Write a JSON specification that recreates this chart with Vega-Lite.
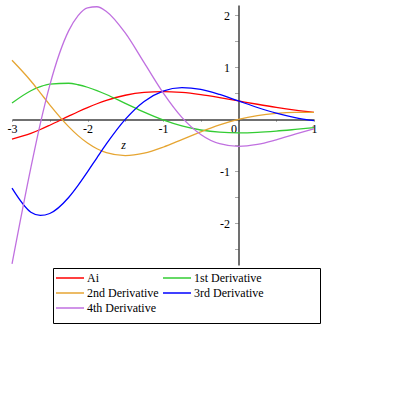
{
  "$schema": "https://vega.github.io/schema/vega-lite/v6.json",
  "width": 302,
  "height": 260,
  "autosize": {"type": "none"},
  "padding": {"left": 12, "top": 5, "right": 81, "bottom": 130},
  "background": "white",
  "config": {"view": {"stroke": null}},
  "data": {"values": [
    {"z": -3, "s": "Ai", "v": -0.3788}, {"z": -3, "s": "1st Derivative", "v": 0.3146}, {"z": -3, "s": "2nd Derivative", "v": 1.1364}, {"z": -3, "s": "3rd Derivative", "v": -1.3226}, {"z": -3, "s": "4th Derivative", "v": -2.7802},
    {"z": -2.75, "s": "Ai", "v": -0.2685}, {"z": -2.75, "s": "1st Derivative", "v": 0.5513}, {"z": -2.75, "s": "2nd Derivative", "v": 0.7383}, {"z": -2.75, "s": "3rd Derivative", "v": -1.7847}, {"z": -2.75, "s": "4th Derivative", "v": -0.9278},
    {"z": -2.625, "s": "Ai", "v": -0.1944}, {"z": -2.625, "s": "1st Derivative", "v": 0.6294}, {"z": -2.625, "s": "2nd Derivative", "v": 0.5103}, {"z": -2.625, "s": "3rd Derivative", "v": -1.8467}, {"z": -2.625, "s": "4th Derivative", "v": -0.0806},
    {"z": -2.5, "s": "Ai", "v": -0.1123}, {"z": -2.5, "s": "1st Derivative", "v": 0.6788}, {"z": -2.5, "s": "2nd Derivative", "v": 0.2808}, {"z": -2.5, "s": "3rd Derivative", "v": -1.8094}, {"z": -2.5, "s": "4th Derivative", "v": 0.6556},
    {"z": -2.25, "s": "Ai", "v": 0.0616}, {"z": -2.25, "s": "1st Derivative", "v": 0.6950}, {"z": -2.25, "s": "2nd Derivative", "v": -0.1386}, {"z": -2.25, "s": "3rd Derivative", "v": -1.5022}, {"z": -2.25, "s": "4th Derivative", "v": 1.7019},
    {"z": -2.125, "s": "Ai", "v": 0.1469}, {"z": -2.125, "s": "1st Derivative", "v": 0.6665}, {"z": -2.125, "s": "2nd Derivative", "v": -0.3122}, {"z": -2.125, "s": "3rd Derivative", "v": -1.2695}, {"z": -2.125, "s": "4th Derivative", "v": 1.9965},
    {"z": -2, "s": "Ai", "v": 0.2274}, {"z": -2, "s": "1st Derivative", "v": 0.6183}, {"z": -2, "s": "2nd Derivative", "v": -0.4548}, {"z": -2, "s": "3rd Derivative", "v": -1.0091}, {"z": -2, "s": "4th Derivative", "v": 2.1461},
    {"z": -1.875, "s": "Ai", "v": 0.3008}, {"z": -1.875, "s": "1st Derivative", "v": 0.5542}, {"z": -1.875, "s": "2nd Derivative", "v": -0.5641}, {"z": -1.875, "s": "3rd Derivative", "v": -0.7383}, {"z": -1.875, "s": "4th Derivative", "v": 2.1661},
    {"z": -1.75, "s": "Ai", "v": 0.3655}, {"z": -1.75, "s": "1st Derivative", "v": 0.4787}, {"z": -1.75, "s": "2nd Derivative", "v": -0.6396}, {"z": -1.75, "s": "3rd Derivative", "v": -0.4722}, {"z": -1.75, "s": "4th Derivative", "v": 2.0766},
    {"z": -1.5, "s": "Ai", "v": 0.4643}, {"z": -1.5, "s": "1st Derivative", "v": 0.3092}, {"z": -1.5, "s": "2nd Derivative", "v": -0.6964}, {"z": -1.5, "s": "3rd Derivative", "v": 0.0005}, {"z": -1.5, "s": "4th Derivative", "v": 1.6630},
    {"z": -1.25, "s": "Ai", "v": 0.5200}, {"z": -1.25, "s": "1st Derivative", "v": 0.1391}, {"z": -1.25, "s": "2nd Derivative", "v": -0.6501}, {"z": -1.25, "s": "3rd Derivative", "v": 0.3462}, {"z": -1.25, "s": "4th Derivative", "v": 1.0907},
    {"z": -1, "s": "Ai", "v": 0.5356}, {"z": -1, "s": "1st Derivative", "v": -0.0102}, {"z": -1, "s": "2nd Derivative", "v": -0.5356}, {"z": -1, "s": "3rd Derivative", "v": 0.5457}, {"z": -1, "s": "4th Derivative", "v": 0.5152},
    {"z": -0.75, "s": "Ai", "v": 0.5178}, {"z": -0.75, "s": "1st Derivative", "v": -0.1260}, {"z": -0.75, "s": "2nd Derivative", "v": -0.3883}, {"z": -0.75, "s": "3rd Derivative", "v": 0.6123}, {"z": -0.75, "s": "4th Derivative", "v": 0.0393},
    {"z": -0.5, "s": "Ai", "v": 0.4757}, {"z": -0.5, "s": "1st Derivative", "v": -0.2041}, {"z": -0.5, "s": "2nd Derivative", "v": -0.2379}, {"z": -0.5, "s": "3rd Derivative", "v": 0.5778}, {"z": -0.5, "s": "4th Derivative", "v": -0.2892},
    {"z": -0.25, "s": "Ai", "v": 0.4187}, {"z": -0.25, "s": "1st Derivative", "v": -0.2464}, {"z": -0.25, "s": "2nd Derivative", "v": -0.1047}, {"z": -0.25, "s": "3rd Derivative", "v": 0.4803}, {"z": -0.25, "s": "4th Derivative", "v": -0.4666},
    {"z": 0, "s": "Ai", "v": 0.3550}, {"z": 0, "s": "1st Derivative", "v": -0.2588}, {"z": 0, "s": "2nd Derivative", "v": 0}, {"z": 0, "s": "3rd Derivative", "v": 0.3550}, {"z": 0, "s": "4th Derivative", "v": -0.5176},
    {"z": 0.25, "s": "Ai", "v": 0.2912}, {"z": 0.25, "s": "1st Derivative", "v": -0.2491}, {"z": 0.25, "s": "2nd Derivative", "v": 0.0728}, {"z": 0.25, "s": "3rd Derivative", "v": 0.2289}, {"z": 0.25, "s": "4th Derivative", "v": -0.4800},
    {"z": 0.5, "s": "Ai", "v": 0.2317}, {"z": 0.5, "s": "1st Derivative", "v": -0.2249}, {"z": 0.5, "s": "2nd Derivative", "v": 0.1158}, {"z": 0.5, "s": "3rd Derivative", "v": 0.1192}, {"z": 0.5, "s": "4th Derivative", "v": -0.3919},
    {"z": 0.75, "s": "Ai", "v": 0.1793}, {"z": 0.75, "s": "1st Derivative", "v": -0.1932}, {"z": 0.75, "s": "2nd Derivative", "v": 0.1345}, {"z": 0.75, "s": "3rd Derivative", "v": 0.0345}, {"z": 0.75, "s": "4th Derivative", "v": -0.2855},
    {"z": 1, "s": "Ai", "v": 0.1353}, {"z": 1, "s": "1st Derivative", "v": -0.1591}, {"z": 1, "s": "2nd Derivative", "v": 0.1353}, {"z": 1, "s": "3rd Derivative", "v": -0.0239}, {"z": 1, "s": "4th Derivative", "v": -0.1830}
  ]},
  "mark": {"type": "line", "interpolate": "monotone", "strokeWidth": 1.3},
  "encoding": {
    "x": {
      "field": "z", "type": "quantitative",
      "scale": {"domain": [-3, 1], "nice": false, "zero": false},
      "axis": {
        "orient": "bottom", "offset": -145.6,
        "values": [-3, -2.5, -2, -1.5, -1, -0.5, 0, 0.5, 1],
        "labelExpr": "datum.value % 1 == 0 ? '' + datum.value : ''",
        "labelFlush": false, "labelOverlap": false, "labelBound": false,
        "labelFont": "Liberation Serif", "labelFontSize": 12, "labelColor": "black",
        "labelPadding": 2,
        "labelAlign": {"condition": {"test": "datum.value === 0", "value": "right"}, "value": "center"},
        "labelOffset": {"condition": {"test": "datum.value === 0", "value": -2}, "value": 0},
        "domainColor": "#404040", "domainWidth": 1.5,
        "tickColor": "#aaaaaa", "tickSize": 2, "grid": false,
        "title": "z", "titleFont": "Liberation Serif", "titleFontStyle": "italic", "titleFontWeight": "normal",
        "titleFontSize": 12, "titleColor": "black", "titleX": 111, "titleY": 25,
        "titleBaseline": "middle", "titleAlign": "center"
      }
    },
    "y": {
      "field": "v", "type": "quantitative",
      "scale": {"domain": [-2.8, 2.2], "nice": false, "zero": false},
      "axis": {
        "orient": "left", "offset": -226.5,
        "values": [-2.5, -2, -1.5, -1, -0.5, 0.5, 1, 1.5, 2],
        "labelExpr": "datum.value % 1 == 0 ? '' + datum.value : ''",
        "labelOverlap": false, "labelBound": false,
        "labelFont": "Liberation Serif", "labelFontSize": 12, "labelColor": "black",
        "labelPadding": 5,
        "domainColor": "#404040", "domainWidth": 1.5,
        "tickColor": "#aaaaaa", "tickSize": 4, "grid": false,
        "title": null
      }
    },
    "color": {
      "field": "s", "type": "nominal",
      "scale": {
        "domain": ["Ai", "1st Derivative", "2nd Derivative", "3rd Derivative", "4th Derivative"],
        "range": ["#ff0000", "#33cc33", "#e6a532", "#0000ff", "#c070e0"]
      },
      "legend": {
        "orient": "none", "legendX": 41, "legendY": 263,
        "columns": 2, "direction": "horizontal",
        "title": " ", "titleOrient": "bottom", "titleFontSize": 7, "titlePadding": 0,
        "symbolType": "M-1,0H3", "symbolSize": 196, "symbolStrokeWidth": 1.5,
        "labelFont": "Liberation Serif", "labelFontSize": 12, "labelColor": "black",
        "labelOffset": 16, "labelLimit": 300,
        "labelExpr": "indexof(datum.value, 'st ') > 0 || indexof(datum.value, 'rd ') > 0 ? datum.value + '\u00a0\u00a0\u00a0\u00a0\u00a0\u00a0\u00a0\u00a0\u00a0\u00a0\u00a0\u00a0\u00a0\u00a0\u00a0\u00a0\u00a0\u00a0\u200b' : datum.value",
        "strokeColor": "black", "padding": 2, "rowPadding": 1, "columnPadding": 1,
        "gridAlign": "each"
      }
    }
  }
}
